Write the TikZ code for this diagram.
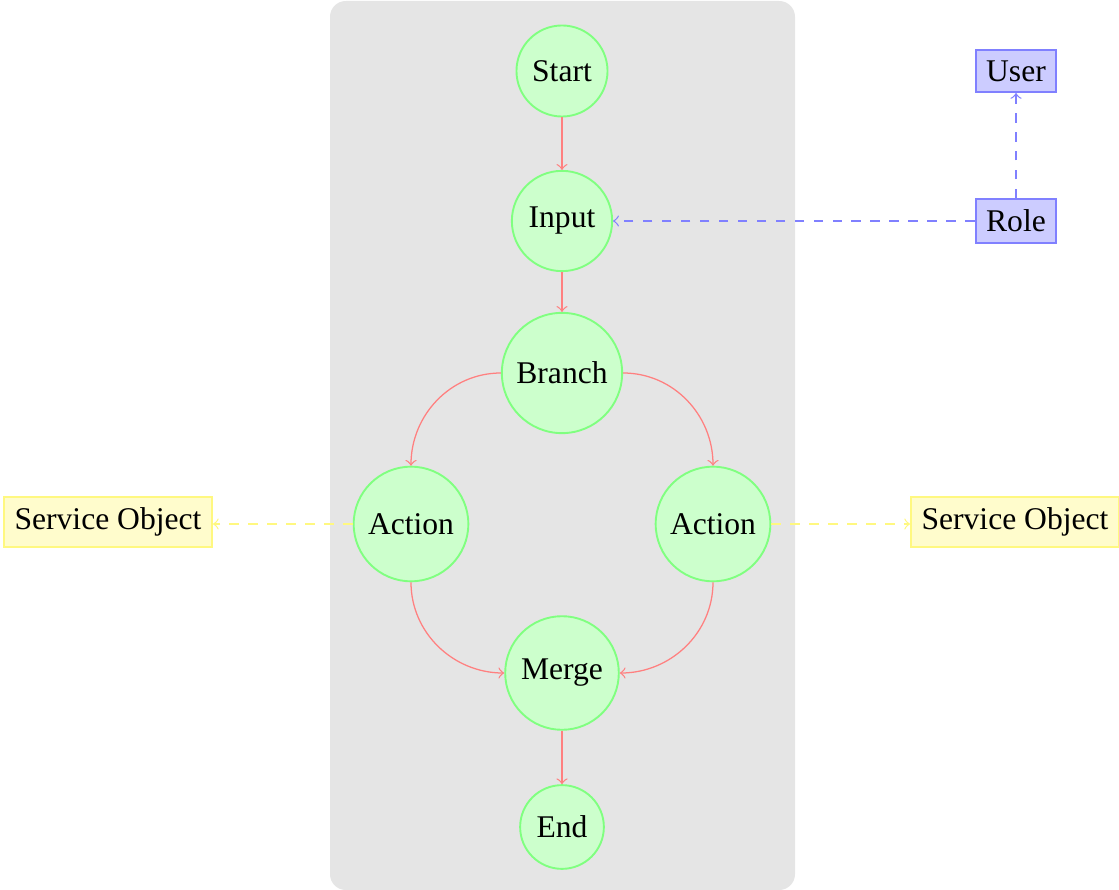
\documentclass[tikz,border=0pt]{standalone}
\usepackage{fontspec}
\setmainfont{Liberation Serif}
\begin{document}
\begin{tikzpicture}[x=0.3165pt,y=0.3165pt,yscale=-1,xscale=1,
  state/.style={circle,draw=green!50,fill=green!20,semithick},
  flow/.style={->,draw=red!50},
  rolebox/.style={rectangle,draw=blue!50,fill=blue!20,semithick},
  rolelink/.style={->,draw=blue!50,dashed},
  svcbox/.style={rectangle,draw=yellow!50,fill=yellow!20,semithick},
  svclink/.style={->,draw=yellow!50,dashed}]
%set diagram size
\useasboundingbox (0,0) rectangle (1119,890);

%Rounded Rect 
\fill [gray!20,rounded corners=5pt] (330,1) rectangle (795,890);

% States
\node [state] (start) at (562,71) {Start};
\node [state] (input) at (562,221) {Input};
\node [state] (branch) at (562,373) {Branch};
\node [state] (actl) at (411,524) {Action};
\node [state] (actr) at (713,524) {Action};
\node [state] (merge) at (562,673) {Merge};
\node [state] (end) at (562,827) {End};

% Roles
\node [rolebox] (user) at (1016,71) {User};
\node [rolebox] (role) at (1016,221) {Role};

% Service Objects
\node [svcbox] (svcl) at (108,522) {Service Object};
\node [svcbox] (svcr) at (1015,522) {Service Object};

% Flow (y is flipped, so angles are mirrored)
\draw [flow] (start) -- (input);
\draw [flow] (input) -- (branch);
\draw [flow] (branch.west) to [out=180,in=-90] (actl.north);
\draw [flow] (branch.east) to [out=0,in=-90] (actr.north);
\draw [flow] (actl.south) to [out=90,in=180] (merge.west);
\draw [flow] (actr.south) to [out=90,in=0] (merge.east);
\draw [flow] (merge) -- (end);

% Links
\draw [rolelink] (role) -- (input);
\draw [rolelink] (role) -- (user);
\draw [svclink] (actl.west) -- (svcl.east |- actl.west);
\draw [svclink] (actr.east) -- (svcr.west |- actr.east);

\end{tikzpicture}
\end{document}
